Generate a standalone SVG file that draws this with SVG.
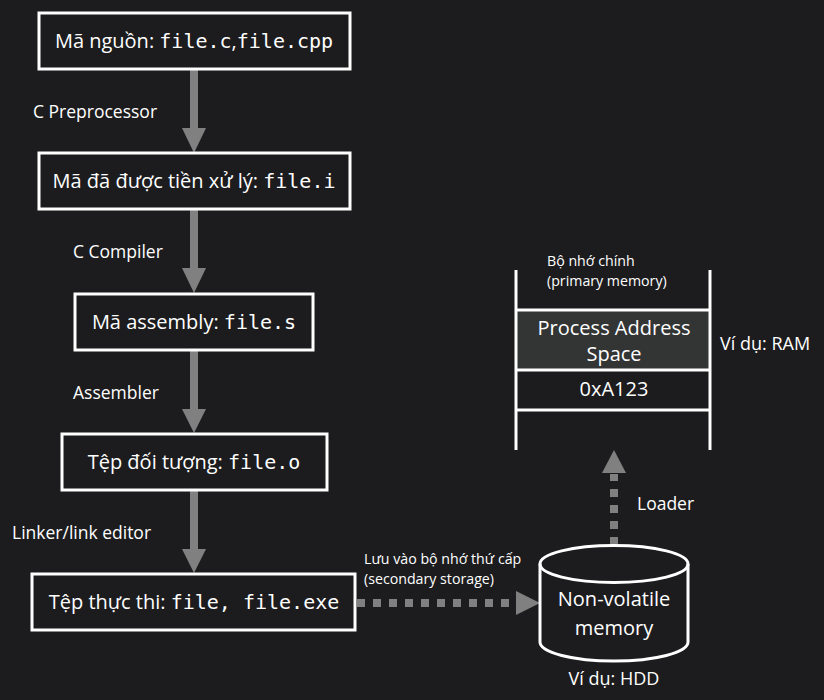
<svg xmlns="http://www.w3.org/2000/svg" width="824" height="700" viewBox="0 0 824 700">
<defs>
<style>
.bg{fill:#1c1c1e}
.box{fill:#1c1c1e;stroke:#ffffff;stroke-width:3}
.t{font-family:"Open Sans","Noto Sans","DejaVu Sans",sans-serif;fill:#ffffff}
.m{font-family:"DejaVu Sans Mono","Liberation Mono",monospace}
.bt{font-size:20px;text-anchor:middle}
.lb{font-size:17.5px}
.sm{font-size:14.2px}
.sh{stroke:#808080;stroke-width:8;fill:none}
.dot{stroke:#808080;stroke-width:8;fill:none;stroke-dasharray:8 8}
.hd{fill:#808080}
.wl{stroke:#ffffff;stroke-width:3;fill:none}
</style>
</defs>
<rect class="bg" x="0" y="0" width="824" height="700"/>
<g id="connectors">
<line class="sh" x1="194" y1="69" x2="194" y2="130"/><polygon class="hd" points="182,128 206,128 194,153"/>
<line class="sh" x1="194" y1="209" x2="194" y2="270"/><polygon class="hd" points="182,268 206,268 194,293"/>
<line class="sh" x1="194" y1="350" x2="194" y2="411"/><polygon class="hd" points="182,409 206,409 194,433"/>
<line class="sh" x1="194" y1="490" x2="194" y2="551"/><polygon class="hd" points="182,549 206,549 194,573"/>
<line class="dot" x1="357" y1="603" x2="516" y2="603"/><polygon class="hd" points="516,591 516,615 540,603"/>
<line class="dot" x1="614" y1="545" x2="614" y2="474"/><polygon class="hd" points="602,473 626,473 614,450"/>
</g>
<g id="labels">
<text class="t lb" x="33" y="118">C Preprocessor</text>
<text class="t lb" x="73" y="258">C Compiler</text>
<text class="t lb" x="73" y="399">Assembler</text>
<text class="t lb" x="12" y="539">Linker/link editor</text>
<text class="t sm" x="364" y="564">Lưu vào bộ nhớ thứ cấp</text>
<text class="t sm" x="364" y="584">(secondary storage)</text>
<text class="t lb" x="637" y="510">Loader</text>
</g>
<g id="n1"><rect class="box" x="39" y="13" width="311" height="56"/>
<text class="t bt" x="194" y="48">Mã nguồn: <tspan class="m">file.c</tspan>,<tspan class="m">file.cpp</tspan></text></g>
<g id="n2"><rect class="box" x="39" y="153" width="311" height="56"/>
<text class="t bt" x="194" y="188">Mã đã được tiền xử lý: <tspan class="m">file.i</tspan></text></g>
<g id="n3"><rect class="box" x="75" y="294" width="238" height="56"/>
<text class="t bt" x="194" y="329">Mã assembly: <tspan class="m">file.s</tspan></text></g>
<g id="n4"><rect class="box" x="62" y="434" width="265" height="56"/>
<text class="t bt" x="194" y="469">Tệp đối tượng: <tspan class="m">file.o</tspan></text></g>
<g id="n5"><rect class="box" x="32" y="574" width="323" height="56"/>
<text class="t bt" x="194" y="609">Tệp thực thi: <tspan class="m">file, file.exe</tspan></text></g>
<g id="memory">
<rect x="516" y="310" width="194" height="60" fill="#333535"/>
<line class="wl" x1="516" y1="270" x2="516" y2="450"/>
<line class="wl" x1="710" y1="270" x2="710" y2="450"/>
<line class="wl" x1="516" y1="310" x2="710" y2="310"/>
<line class="wl" x1="516" y1="370" x2="710" y2="370"/>
<line class="wl" x1="516" y1="410" x2="710" y2="410"/>
<text class="t sm" x="547" y="266">Bộ nhớ chính</text>
<text class="t sm" x="547" y="286">(primary memory)</text>
<text class="t bt" x="614" y="335">Process Address</text>
<text class="t bt" x="614" y="361">Space</text>
<text class="t bt" x="614" y="396">0xA123</text>
<text class="t" x="720" y="350" font-size="18px">Ví dụ: RAM</text>
</g>
<g id="disk">
<path class="wl" d="M540,564 L540,642 A74,19 0 0 0 688,642 L688,564" fill="#1c1c1e"/>
<ellipse class="wl" cx="614" cy="564" rx="74" ry="18.5" fill="#1c1c1e"/>
<text class="t bt" x="614" y="606">Non-volatile</text>
<text class="t bt" x="614" y="635">memory</text>
<text class="t" x="614" y="685" font-size="18px" text-anchor="middle">Ví dụ: HDD</text>
</g>
</svg>
